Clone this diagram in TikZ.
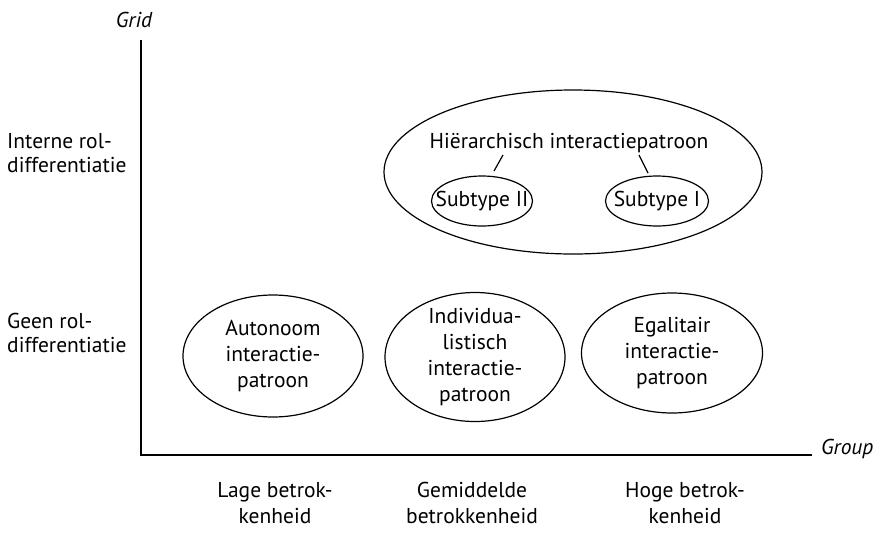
\documentclass[tikz,border=0pt]{standalone}
\usepackage{fontspec}
\setmainfont{PT Sans}
\usetikzlibrary{shapes.geometric}
\begin{document}
\begin{tikzpicture}[x=1pt,y=-1pt,
  lbl/.style={font=\fontsize{21.5}{26}\selectfont, align=center, inner sep=0pt},
  rowlbl/.style={font=\fontsize{21.5}{24.5}\selectfont, align=left, inner sep=0pt, anchor=west},
  ital/.style={font=\fontsize{21.5}{26}\selectfont\itshape, inner sep=0pt},
  oval/.style={draw, line width=1.2pt, ellipse, inner sep=0pt},
  axis/.style={line width=1.2pt},
  link/.style={line width=1.2pt}]
\useasboundingbox (0,0) rectangle (894,547);
% axes
\coordinate (o) at (141,455);
\coordinate (ytop) at (141,40);
\coordinate (xend) at (812,455);
\draw[axis] (ytop) -- (o) -- (xend);
\node[ital] (grid) at (134,20) {Grid};
\node[ital, anchor=west] (group) at (821,449) {Group};
% row labels
\node[rowlbl] (interne) at (7,153) {Interne rol-\\differentiatie};
\node[rowlbl] (geen) at (7,333) {Geen rol-\\differentiatie};
% column labels
\node[lbl] (lage) at (275,503) {Lage betrok-\\kenheid};
\node[lbl] (gem) at (472,503) {Gemiddelde\\betrokkenheid};
\node[lbl] (hoge) at (685,503) {Hoge betrok-\\kenheid};
% hierarchical
\node[oval, minimum width=378pt, minimum height=164pt] (hier) at (573,172) {};
\node[lbl] (hiertxt) at (569,143) {Hiërarchisch interactiepatroon};
\node[oval, minimum width=101pt, minimum height=50pt] (sub2) at (482,201) {};
\node[lbl] at (sub2) {Subtype II};
\node[oval, minimum width=103pt, minimum height=50pt] (sub1) at (657,201) {};
\node[lbl] at (sub1) {Subtype I};
\coordinate (h2) at (503,155);
\coordinate (h2b) at (494,171);
\coordinate (h1) at (639,155);
\coordinate (h1b) at (648,173);
\draw[link] (h2) -- (h2b);
\draw[link] (h1) -- (h1b);
% bottom
\node[oval, minimum width=180pt, minimum height=122pt] (auto) at (273,356) {};
\node[lbl] at (auto) {Autonoom\\interactie-\\patroon};
\node[oval, minimum width=180pt, minimum height=129pt] (indiv) at (475,357) {};
\node[lbl] at (indiv) {Individua-\\listisch\\interactie-\\patroon};
\node[oval, minimum width=181pt, minimum height=120pt] (egal) at (672,353) {};
\node[lbl] at (egal) {Egalitair\\interactie-\\patroon};
\end{tikzpicture}
\end{document}
